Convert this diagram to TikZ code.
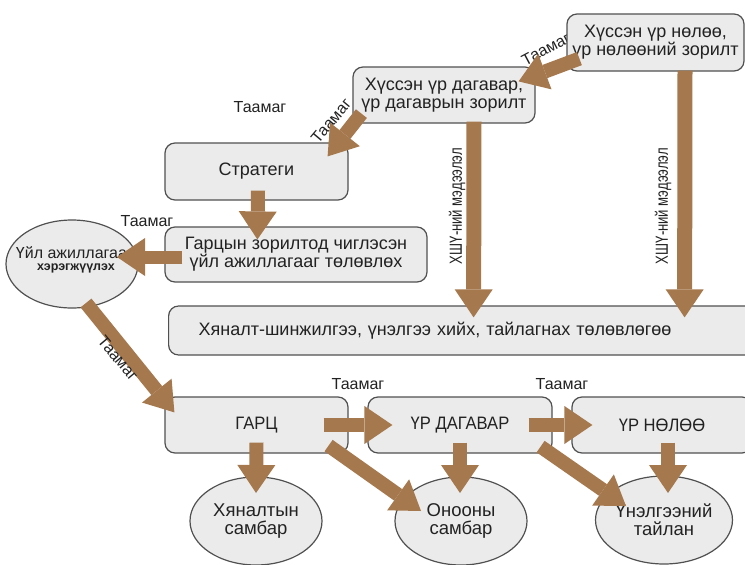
\documentclass[tikz,border=0pt]{standalone}
\usepackage{fontspec}
\setmainfont{Liberation Sans}
\newfontfamily\condf[FakeStretch=0.75]{Liberation Sans}
\newfontfamily\semicondf[FakeStretch=0.92]{Liberation Sans}
\usetikzlibrary{arrows.meta,calc,shapes.geometric}
\definecolor{arrowc}{RGB}{166,120,77}
\definecolor{boxfill}{RGB}{235,235,235}
\definecolor{boxline}{RGB}{80,80,80}
\definecolor{txt}{RGB}{34,34,34}
\begin{document}
\begin{tikzpicture}[x=1pt,y=-1pt,
  box/.style={draw=boxline, fill=boxfill, line width=1.2pt, rounded corners=10pt,
    align=center, text=txt, font=\fontsize{18}{18}\selectfont, inner sep=0pt},
  bbox/.style={box, font=\semicondf\fontsize{18}{19}\selectfont},
  oval/.style={ellipse, draw=boxline, fill=boxfill, line width=1.2pt, inner sep=0pt,
    align=center, text=txt, font=\fontsize{18.5}{18}\selectfont,
    minimum width=132pt, minimum height=88pt},
  fat/.style={draw=arrowc, line width=14pt,
    -{Triangle[length=28pt,width=38pt,line width=0pt]}},
  lab/.style={text=txt, font=\fontsize{16}{18}\selectfont, inner sep=0pt},
  side/.style={text=txt, font=\condf\fontsize{17.5}{18}\selectfont, inner sep=0pt, rotate=90},
]
\clip (0,0) rectangle (745,565);
\fill[white] (0,0) rectangle (745,565);

% labels lying behind boxes
\node[lab, rotate=28] (L1) at (546,49) {Таамаг};
\node[lab, rotate=50] (L2) at (331,121) {Таамаг};
\node[lab] (L3) at (260,107) {Таамаг};
\node[lab] (L4) at (147,221) {Таамаг};
\node[lab] (L6) at (358,384) {Таамаг};
\node[lab] (L7) at (562,384) {Таамаг};
\node[side] (S1) at (457,206) {ХШҮ-ний мэдээлэл};
\node[side] (S2) at (663,206) {ХШҮ-ний мэдээлэл};

% boxes
\node[box, minimum width=177pt, minimum height=57pt] (B1) at (655.5,42.5)
  {Хүссэн үр нөлөө,\\үр нөлөөний зорилт};
\node[box, minimum width=182pt, minimum height=56pt] (B2) at (444,95)
  {Хүссэн үр дагавар,\\үр дагаврын зорилт};
\node[box, minimum width=183pt, minimum height=57pt] (B3) at (256.5,171.5) {Стратеги};
\node[box, minimum width=262pt, minimum height=55pt] (B4) at (296,254.5)
  {Гарцын зорилтод чиглэсэн\\үйл ажиллагааг төлөвлөх};
\node[box, minimum height=49pt, anchor=west, align=left, text width=540pt,
  inner xsep=30pt] (B5) at (168,330.5)
  {Хяналт-шинжилгээ, үнэлгээ хийх, тайлагнах төлөвлөгөө};
\node[bbox, minimum width=183pt, minimum height=56pt] (G) at (256.5,425) {ГАРЦ};
\node[bbox, minimum width=184pt, minimum height=56pt] (D) at (460,425) {ҮР ДАГАВАР};
\node[bbox, minimum width=180pt, minimum height=56pt] (N) at (662,425) {ҮР НӨЛӨӨ};

% ovals
\node[oval] (E0) at (72,264) {};
\node[lab] (E0a) at (71.5,253) {Үйл ажиллагаа};
\node[lab, font=\bfseries\fontsize{12.5}{14}\selectfont] (E0b) at (76,268) {хэрэгжүүлэх};
\node[oval] (C1) at (256,521) {Хяналтын\\самбар};
\node[oval] (C2) at (461,521) {Онооны\\самбар};
\node[oval] (C3) at (664,520) {Үнэлгээний\\тайлан};

% arrows
\draw[fat] ($(B1.south west)+(13,-13)$) -- ($(B2.north east)+(-17,15)$);
\draw[fat] ($(B2.south west)+(9,-10)$) -- ($(B3.north east)+(-21,14)$);
\draw[fat] ($(B3.south)+(1.5,-10)$) -- ($(B4.north west)+(93,13)$);
\draw[fat, line width=13pt] ($(B4.west)+(18,2.5)$) -- ($(E0.center)+(45,-7)$);
\draw[fat] ($(E0.center)+(14,39)$) -- ($(G.north west)+(10,16)$);
\draw[fat, line width=15pt] ($(B2.south)+(30,-2)$) -- ($(B5.north)+(5,12)$);
\draw[fat, line width=15pt] ($(B1.south)+(29.5,-1)$) -- ($(B5.north)+(216,12)$);
\draw[fat] ($(G.east)+(-25,0)$) -- ($(D.west)+(25,0)$);
\draw[fat] ($(D.east)+(-24,0)$) -- ($(N.west)+(21,0)$);
\draw[fat] ($(G.south)+(0,-11)$) -- ($(C1.center)+(0,-28)$);
\draw[fat] ($(G.south east)+(-20,-8)$) -- ($(C2.center)+(-40,-10)$);
\draw[fat] ($(D.south)+(0,-11)$) -- ($(C2.center)+(-1,-28)$);
\draw[fat] ($(D.south east)+(-12,-7)$) -- ($(C3.center)+(-38,-14)$);
\draw[fat] ($(N.south)+(6,-11)$) -- ($(C3.center)+(4,-27)$);

% label over arrow
\node[lab, rotate=-50] (L5) at (118,358) {Таамаг};
\end{tikzpicture}
\end{document}
